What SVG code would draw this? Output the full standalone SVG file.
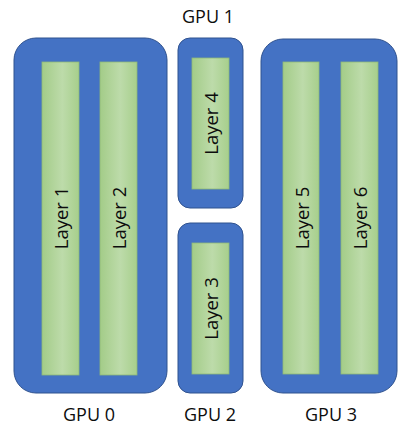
<svg xmlns="http://www.w3.org/2000/svg" width="400" height="425" viewBox="0 0 400 425">
  <defs>
    <linearGradient id="lg" x1="0" y1="0" x2="1" y2="0">
      <stop offset="0" stop-color="#a3cc88"/>
      <stop offset="0.55" stop-color="#bddbaa"/>
      <stop offset="1" stop-color="#a7cf8c"/>
    </linearGradient>
  </defs>
  <style>
    .gpu { fill: #4472c4; stroke: #2f528f; stroke-width: 1; }
    .layer { fill: url(#lg); stroke: #8fb878; stroke-width: 0.8; }
    .lbl { font-family: "Open Sans", "Liberation Sans", sans-serif; font-size: 18px; fill: #0d0d0d; text-anchor: middle; }
    .ltxt { font-family: "Open Sans", "Liberation Sans", sans-serif; font-size: 18.5px; fill: #0d0d0d; text-anchor: middle; dominant-baseline: central; }
  </style>
  <rect width="400" height="425" fill="#ffffff"/>
  <g id="gpu0">
    <rect class="gpu" x="14" y="38" width="153" height="355" rx="22" ry="22"/>
    <text class="lbl" x="89" y="421">GPU 0</text>
  </g>
  <g id="gpu1">
    <rect class="gpu" x="178" y="38" width="65" height="170" rx="12" ry="12"/>
    <text class="lbl" x="208" y="23">GPU 1</text>
  </g>
  <g id="gpu2">
    <rect class="gpu" x="178" y="223" width="65" height="170" rx="12" ry="12"/>
    <text class="lbl" x="210" y="421">GPU 2</text>
  </g>
  <g id="gpu3">
    <rect class="gpu" x="261" y="39" width="136" height="354" rx="22" ry="22"/>
    <text class="lbl" x="331" y="421">GPU 3</text>
  </g>
  <g id="layer1">
    <rect class="layer" x="42" y="62" width="37" height="313"/>
    <text class="ltxt" transform="translate(60.5,218) rotate(-90)">Layer 1</text>
  </g>
  <g id="layer2">
    <rect class="layer" x="100" y="62" width="37" height="313"/>
    <text class="ltxt" transform="translate(118.5,218) rotate(-90)">Layer 2</text>
  </g>
  <g id="layer4">
    <rect class="layer" x="192" y="58" width="37" height="131"/>
    <text class="ltxt" transform="translate(210.5,123.5) rotate(-90)">Layer 4</text>
  </g>
  <g id="layer3">
    <rect class="layer" x="192" y="243" width="37" height="131"/>
    <text class="ltxt" transform="translate(210.5,308.5) rotate(-90)">Layer 3</text>
  </g>
  <g id="layer5">
    <rect class="layer" x="283" y="62" width="36" height="312"/>
    <text class="ltxt" transform="translate(301,218) rotate(-90)">Layer 5</text>
  </g>
  <g id="layer6">
    <rect class="layer" x="341" y="62" width="37" height="312"/>
    <text class="ltxt" transform="translate(359.5,218) rotate(-90)">Layer 6</text>
  </g>
  <g id="connectors"></g>
</svg>
